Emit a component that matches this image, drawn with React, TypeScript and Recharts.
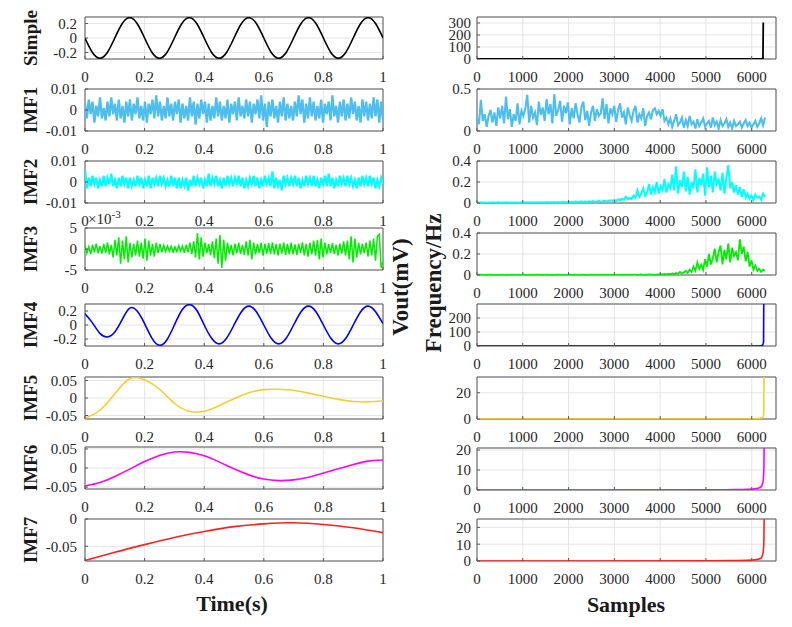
import React from "react";
import {
  LineChart,
  Line,
  XAxis,
  YAxis,
  CartesianGrid,
  ReferenceArea,
} from "recharts";

const FONT = "'Liberation Serif', 'Times New Roman', serif";

// axis ticks
const timeTicks = [0, 0.2, 0.4, 0.6, 0.8, 1];
const sampleTicks = [0, 1000, 2000, 3000, 4000, 5000, 6000];
const rowNames = ["Simple", "IMF1", "IMF2", "IMF3", "IMF4", "IMF5", "IMF6", "IMF7"];

// ---- left column: time signals (t = 0..1 s) ----
const simple = [
  0, -0.2, -0.28, -0.2, 0, 0.2, 0.28, 0.2,
  0, -0.2, -0.28, -0.2, 0, 0.2, 0.28, 0.2,
  0, -0.2, -0.28, -0.2, 0, 0.2, 0.28, 0.2,
  0, -0.2, -0.28, -0.2, 0, 0.2, 0.28, 0.2,
  0, -0.2, -0.28, -0.2, 0, 0.2, 0.28, 0.2,
  0,
];

// IMF1 / IMF2 / IMF3 in units of 1e-3
const imf1Milli = [
  3, -4, 5, -2, 4, -6, 2, -3, 6, -4,
  1, -5, 4, -3, 6, -2, 3, -5, 5, -4,
  2, -6, 4, -3, 5, -5, 3, -2, 6, -4,
  2, -5, 4, -6, 3, -2, 5, -4, 7, -3,
  4, -5, 2, -4, 6, -3, 3, -5, 4, -2,
  5, -6, 3, -4, 2, -5, 6, -3, 4, -7,
  3, -4, 5, -2, 4, -6, 3, -5, 2, -4,
  6, -3, 4, -5, 2, -4, 5, -6, 3, -2,
  4, -5, 6, -3, 2, -4, 5, -3, 4, -6,
  3, -2, 5, -4, 7, -5, 3, -8, 4, -3,
  5, -4, 2, -6, 4, -3, 6, -5, 3, -4,
  2, -5, 4, -3, 7, -2, 5, -6, 3, -4,
  6, -3, 4, -5, 2, -4, 5, -6, 3, -2,
  4, -5, 7, -3, 2, -6, 4, -3, 5, -5,
  3, -4, 6, -2, 4, -5, 2, -6, 5, -3,
  4, -5, 3, -4, 6, -3, 5, -6, 4, -5,
];

const imf2Milli = [
  6, -3, 2, -2, 3, -1, 2, -3, 1, -2,
  3, -2, 2, -1, 4, -2, 1, -3, 2, -2,
  3, -1, 2, -3, 2, -2, 1, -2, 3, -1,
  2, -3, 1, -2, 3, -3, 2, -1, 2, -2,
  3, -1, 2, -2, 1, -2, 3, -2, 2, -3,
  2, -3, 1, -2, 2, -4, 1, -2, 3, -2,
  2, -1, 2, -3, 1, -2, 4, -2, 2, -1,
  3, -2, 1, -3, 2, -2, 3, -1, 2, -2,
  2, -1, 3, -2, 2, -3, 1, -2, 2, -1,
  3, -2, 2, -3, 1, -2, 3, -1, 2, -2,
  5, -3, 2, -2, 1, -4, 3, -1, 2, -2,
  2, -1, 3, -2, 2, -3, 1, -2, 3, -1,
  2, -2, 3, -2, 1, -3, 2, -1, 3, -2,
  4, -2, 2, -3, 1, -2, 3, -1, 2, -2,
  3, -1, 2, -2, 1, -3, 2, -2, 3, -1,
  2, -2, 3, -1, 2, -3, 1, -2, 2, -1,
];

const imf3Milli = [
  1, -1, 0.5, -1.2, 1, -0.8, 1.3, -1, 0.7, -1.1,
  1.2, -0.9, 1.5, -1.3, 1, -2, 2.2, -1.5, 2.8, -3.5,
  2, -2.5, 3, -3.2, 1.5, -2, 1.2, -1.5, 2, -1.8,
  1.5, -2.3, 2.5, -2.8, 2, -1.5, 1.2, -1.8, 1.5, -1,
  1.2, -0.8, 0.9, -0.6, 0.7, -0.5, 0.6, -0.7, 0.5, -0.6,
  0.8, -0.5, 0.7, -0.9, 1, -0.8, 1.5, -1.2, 1.8, -2,
  3.8, -2.5, 2.8, -1.8, 1.5, -1, 1.2, -1.5, 1.8, -2.2,
  2.5, -3.5, 3.3, -4.5, 2.2, -2.8, 1.5, -1.2, 1, -1.5,
  1.3, -1, 1.5, -1.2, 1, -1.4, 1.8, -1.5, 2.2, -2.5,
  1.5, -1.3, 1.2, -1, 1.5, -1.6, 1.3, -1.1, 1.4, -1.2,
  1.6, -1.3, 1.2, -1.5, 1.3, -1.1, 1.5, -1.4, 1.2, -1.3,
  1.5, -1.2, 1.1, -1.4, 1.3, -1, 1.6, -1.5, 1.2, -1.8,
  1.5, -1.3, 2, -1.6, 2.2, -2.5, 2.5, -2, 1.5, -1.3,
  1.2, -1, 1.4, -1.2, 1, -1.5, 1.3, -1.1, 1.8, -1.5,
  2, -2.5, 3, -3.2, 2.5, -2, 1.5, -1.3, 1.2, -1,
  1.5, -1.8, 2, -1.5, 2.5, -2.8, 3, 3.5, -4.5, -3,
];

const imf4 = [
  0.16, 0.03, -0.12, -0.17, -0.1, 0.08, 0.24, 0.2,
  0.02, -0.19, -0.29, -0.21, 0, 0.21, 0.29, 0.21,
  0, -0.19, -0.27, -0.19, 0, 0.19, 0.27, 0.19,
  0, -0.19, -0.27, -0.19, 0, 0.19, 0.27, 0.19,
  0, -0.19, -0.27, -0.19, 0, 0.19, 0.27, 0.19,
  0.02,
];

const imf5 = [
  -0.058, -0.035, 0.012, 0.055, 0.052, 0.025, -0.015, -0.038, -0.038, -0.022,
  -0.002, 0.015, 0.024, 0.025, 0.022, 0.014, 0.005, -0.004, -0.01, -0.011,
  -0.008,
];

const imf6 = [
  -0.047, -0.038, -0.022, -0.003, 0.017, 0.033, 0.042, 0.041, 0.032, 0.016,
  -0.002, -0.018, -0.029, -0.033, -0.031, -0.024, -0.013, -0.002, 0.009, 0.018,
  0.021,
];

const imf7 = [
  -0.076, -0.061, -0.047, -0.034, -0.023, -0.014, -0.009, -0.007, -0.01, -0.016,
  -0.025,
];

// ---- right column: spectra over samples ----
const SAMPLE_END = 6290;

const r1X = [0, 6245, 6252];
const r1Y = [0, 0, 305];

const r2 = [
  0.15, 0.08, 0.37, 0.12, 0.2, 0.05, 0.18, 0.25, 0.1, 0.22,
  0.06, 0.28, 0.15, 0.3, 0.09, 0.41, 0.14, 0.26, 0.05, 0.2,
  0.12, 0.33, 0.08, 0.24, 0.18, 0.27, 0.43, 0.1, 0.3, 0.16,
  0.22, 0.07, 0.35, 0.19, 0.28, 0.12, 0.38, 0.2, 0.32, 0.09,
  0.44, 0.18, 0.25, 0.36, 0.11, 0.3, 0.21, 0.34, 0.08, 0.27,
  0.15, 0.33, 0.2, 0.1, 0.28, 0.35, 0.13, 0.24, 0.06, 0.22,
  0.3, 0.12, 0.26, 0.18, 0.21, 0.39, 0.14, 0.32, 0.09, 0.27,
  0.2, 0.3, 0.11, 0.25, 0.33, 0.16, 0.22, 0.08, 0.28, 0.19,
  0.12, 0.24, 0.3, 0.1, 0.2, 0.15, 0.27, 0.06, 0.18, 0.22,
  0.14, 0.25, 0.27, 0.2, 0.24, 0.18, 0.26, 0.12, 0.16, 0.08,
  0.15, 0.05, 0.12, 0.2, 0.07, 0.1, 0.16, 0.04, 0.13, 0.06,
  0.18, 0.08, 0.11, 0.03, 0.14, 0.06, 0.1, 0.15, 0.05, 0.09,
  0.12, 0.04, 0.16, 0.07, 0.11, 0.03, 0.13, 0.06, 0.09, 0.14,
  0.05, 0.1, 0.03, 0.12, 0.06, 0.08, 0.11, 0.04, 0.09, 0.13,
  0.06, 0.1, 0.04, 0.08, 0.12, 0.05, 0.09, 0.15, 0.07, 0.16,
];

const r3 = [
  0.005, 0.002, 0.006, 0.003, 0.004, 0.002, 0.005, 0.003, 0.006, 0.002,
  0.004, 0.006, 0.003, 0.005, 0.002, 0.006, 0.004, 0.003, 0.005, 0.002,
  0.006, 0.003, 0.005, 0.004, 0.007, 0.003, 0.006, 0.004, 0.005, 0.008,
  0.004, 0.007, 0.005, 0.008, 0.004, 0.006, 0.009, 0.005, 0.008, 0.004,
  0.009, 0.006, 0.01, 0.005, 0.008, 0.011, 0.006, 0.01, 0.007, 0.012,
  0.008, 0.013, 0.007, 0.012, 0.015, 0.009, 0.014, 0.01, 0.016, 0.011,
  0.018, 0.012, 0.015, 0.02, 0.013, 0.017, 0.022, 0.014, 0.019, 0.025,
  0.02, 0.03, 0.018, 0.035, 0.025, 0.04, 0.03, 0.06, 0.035, 0.05,
  0.04, 0.07, 0.05, 0.12, 0.06, 0.09, 0.14, 0.07, 0.1, 0.18,
  0.08, 0.15, 0.1, 0.2, 0.09, 0.16, 0.12, 0.23, 0.1, 0.18,
  0.14, 0.27, 0.12, 0.35, 0.09, 0.22, 0.15, 0.3, 0.11, 0.25,
  0.08, 0.2, 0.14, 0.32, 0.1, 0.24, 0.17, 0.28, 0.07, 0.34,
  0.15, 0.26, 0.1, 0.3, 0.18, 0.22, 0.12, 0.29, 0.09, 0.24,
  0.36, 0.14, 0.2, 0.1, 0.17, 0.08, 0.15, 0.06, 0.13, 0.05,
  0.09, 0.04, 0.07, 0.03, 0.08, 0.05, 0.06, 0.03, 0.09, 0.06,
];

const r4 = [
  0.002, 0.001, 0.003, 0.001, 0.002, 0.001, 0.002, 0.003, 0.001, 0.002,
  0.001, 0.002, 0.001, 0.003, 0.002, 0.001, 0.002, 0.001, 0.003, 0.001,
  0.002, 0.001, 0.002, 0.001, 0.003, 0.002, 0.001, 0.002, 0.001, 0.002,
  0.001, 0.003, 0.002, 0.001, 0.002, 0.001, 0.003, 0.001, 0.002, 0.001,
  0.002, 0.001, 0.003, 0.002, 0.001, 0.002, 0.001, 0.002, 0.003, 0.001,
  0.002, 0.003, 0.001, 0.002, 0.001, 0.003, 0.002, 0.001, 0.002, 0.003,
  0.001, 0.002, 0.003, 0.002, 0.001, 0.003, 0.002, 0.003, 0.001, 0.002,
  0.003, 0.002, 0.001, 0.003, 0.002, 0.004, 0.002, 0.003, 0.002, 0.004,
  0.002, 0.003, 0.004, 0.002, 0.003, 0.005, 0.002, 0.004, 0.003, 0.005,
  0.003, 0.005, 0.002, 0.006, 0.004, 0.008, 0.005, 0.01, 0.006, 0.012,
  0.008, 0.015, 0.01, 0.02, 0.012, 0.03, 0.015, 0.025, 0.04, 0.02,
  0.05, 0.03, 0.08, 0.04, 0.12, 0.06, 0.1, 0.05, 0.15, 0.08,
  0.2, 0.1, 0.16, 0.25, 0.12, 0.22, 0.28, 0.1, 0.24, 0.15,
  0.3, 0.12, 0.26, 0.18, 0.22, 0.14, 0.34, 0.2, 0.27, 0.13,
  0.22, 0.08, 0.14, 0.05, 0.09, 0.04, 0.06, 0.03, 0.05, 0.04,
];

const r5X = [0, 6100, 6200, 6240, 6258, 6264];
const r5Y = [0, 0.5, 2, 8, 30, 400];
const r6X = [0, 6000, 6150, 6220, 6250, 6263, 6270];
const r6Y = [0, 0.05, 0.3, 0.9, 2, 5, 40];
const r7X = [0, 5000, 5600, 5900, 6100, 6200, 6245, 6265, 6275];
const r7Y = [0, 0.05, 0.2, 0.35, 0.7, 1.5, 4, 10, 30];
const r8X = [0, 5000, 5600, 5900, 6100, 6200, 6245, 6265, 6275];
const r8Y = [0, 0.05, 0.25, 0.4, 0.8, 1.6, 4.5, 11, 35];

type Pt = { x: number; y: number };
const timeSeries = (vals: number[]): Pt[] =>
  vals.map((y, i) => ({ x: i / (vals.length - 1), y }));
const sampleSeries = (vals: number[]): Pt[] =>
  vals.map((y, i) => ({ x: (SAMPLE_END * i) / (vals.length - 1), y }));
const pairSeries = (xs: number[], ys: number[]): Pt[] =>
  xs.map((x, i) => ({ x, y: ys[i] }));

const milli = (v: number) => (v === 0 ? "0" : String(v / 1000));

// layout
const PH = 42;
const leftX = 85;
const leftW = 298;
const rightX = 477;
const rightW = 299;
const leftTops = [17, 89, 161, 228, 304, 377, 447, 519];
const rightTops = [17, 89, 161, 233, 304, 377, 448, 519];

type PanelProps = {
  left: number;
  top: number;
  width: number;
  data: Pt[];
  color: string;
  xDomain: [number, number];
  xTicks: number[];
  yDomain: [number, number];
  yTicks: number[];
  yFmt?: (v: number) => string;
  curve?: "linear" | "natural" | "monotone";
  sw?: number;
  yGap: number;
};

const tickStyle = { fontSize: 15, fill: "#262626", fontFamily: FONT };
const tickMark = { stroke: "#595959", strokeWidth: 1 };

const Panel = ({
  left,
  top,
  width,
  data,
  color,
  xDomain,
  xTicks,
  yDomain,
  yTicks,
  yFmt,
  curve = "linear",
  sw = 1.2,
  yGap,
}: PanelProps) => {
  const YW = 70;
  const MT = 10;
  const MR = 6;
  const XH = 26;
  return (
    <div style={{ position: "absolute", left: left - YW, top: top - MT }}>
      <LineChart
        width={YW + width + MR}
        height={MT + PH + XH}
        data={data}
        margin={{ top: MT, right: MR, bottom: 0, left: 0 }}
      >
        <CartesianGrid stroke="#dedede" strokeWidth={0.8} />
        <XAxis
          dataKey="x"
          type="number"
          domain={xDomain}
          ticks={xTicks}
          interval={0}
          allowDataOverflow
          height={XH}
          axisLine={false}
          tickLine={tickMark}
          tickSize={-3}
          tickMargin={15}
          tick={tickStyle}
        />
        <YAxis
          type="number"
          domain={yDomain}
          ticks={yTicks}
          interval={0}
          allowDataOverflow
          width={YW}
          axisLine={false}
          tickLine={tickMark}
          tickSize={-3}
          tickMargin={yGap + 3}
          tickFormatter={yFmt}
          tick={tickStyle}
        />
        <ReferenceArea
          x1={xDomain[0]}
          x2={xDomain[1]}
          y1={yDomain[0]}
          y2={yDomain[1]}
          fill="none"
          stroke="#595959"
          strokeWidth={1}
          ifOverflow="visible"
        />
        <Line
          dataKey="y"
          type={curve}
          stroke={color}
          strokeWidth={sw}
          dot={false}
          isAnimationActive={false}
        />
      </LineChart>
    </div>
  );
};

const leftPanels = [
  { data: timeSeries(simple), color: "#000000", yDomain: [-0.29, 0.29], yTicks: [-0.2, 0, 0.2], curve: "natural", sw: 1.6 },
  { data: timeSeries(imf1Milli), color: "#4DBEEE", yDomain: [-10, 10], yTicks: [-10, 0, 10], yFmt: milli, sw: 2.3 },
  { data: timeSeries(imf2Milli), color: "#00FFFF", yDomain: [-10, 10], yTicks: [-10, 0, 10], yFmt: milli, sw: 2.2 },
  { data: timeSeries(imf3Milli), color: "#00EE00", yDomain: [-5, 5], yTicks: [-5, 0, 5], sw: 1.5 },
  { data: timeSeries(imf4), color: "#0000FF", yDomain: [-0.3, 0.3], yTicks: [-0.2, 0, 0.2], curve: "natural", sw: 1.6 },
  { data: timeSeries(imf5), color: "#F5CF2A", yDomain: [-0.06, 0.06], yTicks: [-0.05, 0, 0.05], curve: "natural", sw: 1.6 },
  { data: timeSeries(imf6), color: "#FF00FF", yDomain: [-0.055, 0.055], yTicks: [-0.05, 0, 0.05], curve: "natural", sw: 1.6 },
  { data: timeSeries(imf7), color: "#FF2020", yDomain: [-0.077, 0], yTicks: [-0.05, 0], curve: "natural", sw: 1.6 },
];

const rightPanels = [
  { data: pairSeries(r1X, r1Y), color: "#000000", yDomain: [0, 350], yTicks: [0, 100, 200, 300], sw: 1.8 },
  { data: sampleSeries(r2), color: "#4DBEEE", yDomain: [0, 0.5], yTicks: [0, 0.5], sw: 2.1 },
  { data: sampleSeries(r3), color: "#00FFFF", yDomain: [0, 0.4], yTicks: [0, 0.2, 0.4], sw: 2.0 },
  { data: sampleSeries(r4), color: "#00EE00", yDomain: [0, 0.4], yTicks: [0, 0.2, 0.4], sw: 1.8 },
  { data: pairSeries(r5X, r5Y), color: "#0000FF", yDomain: [0, 300], yTicks: [0, 100, 200], curve: "monotone", sw: 1.6 },
  { data: pairSeries(r6X, r6Y), color: "#F5CF2A", yDomain: [0, 32], yTicks: [0, 20], curve: "monotone", sw: 1.6 },
  { data: pairSeries(r7X, r7Y), color: "#FF00FF", yDomain: [0, 21], yTicks: [0, 10, 20], curve: "monotone", sw: 1.6 },
  { data: pairSeries(r8X, r8Y), color: "#FF2020", yDomain: [0, 25], yTicks: [0, 10, 20], curve: "monotone", sw: 1.6 },
];

const rotated = (
  text: string,
  cx: number,
  cy: number,
  size: number
): React.ReactNode => (
  <div
    key={text}
    style={{
      position: "absolute",
      left: cx,
      top: cy,
      transform: "translate(-50%, -50%) rotate(-90deg)",
      whiteSpace: "nowrap",
      fontFamily: FONT,
      fontWeight: "bold",
      fontSize: size,
      color: "#1a1a1a",
      lineHeight: 1,
    }}
  >
    {text}
  </div>
);

export default function App() {
  return (
    <div
      style={{
        position: "absolute",
        left: 0,
        top: 0,
        width: 792,
        height: 627,
        background: "#ffffff",
        overflow: "hidden",
      }}
    >
      {leftPanels.map((p, i) => (
        <Panel
          key={"l" + i}
          left={leftX}
          top={leftTops[i]}
          width={leftW}
          data={p.data}
          color={p.color}
          xDomain={[0, 1]}
          xTicks={timeTicks}
          yDomain={p.yDomain as [number, number]}
          yTicks={p.yTicks}
          yFmt={p.yFmt}
          curve={p.curve as PanelProps["curve"]}
          sw={p.sw}
          yGap={8}
        />
      ))}
      {rightPanels.map((p, i) => (
        <Panel
          key={"r" + i}
          left={rightX}
          top={rightTops[i]}
          width={rightW}
          data={p.data}
          color={p.color}
          xDomain={[0, 6530]}
          xTicks={sampleTicks}
          yDomain={p.yDomain as [number, number]}
          yTicks={p.yTicks}
          curve={p.curve as PanelProps["curve"]}
          sw={p.sw}
          yGap={6}
        />
      ))}

      {rowNames.map((name, i) => rotated(name, 30, leftTops[i] + PH / 2, 19))}
      {rotated("Vout(mV)", 400, 287, 23)}
      {rotated("Frequency/Hz", 433, 283, 23)}

      <div
        style={{
          position: "absolute",
          left: 88,
          top: 209,
          fontFamily: FONT,
          fontSize: 15,
          color: "#262626",
          lineHeight: 1,
        }}
      >
        ×10<sup style={{ fontSize: 11 }}>-3</sup>
      </div>

      <div
        style={{
          position: "absolute",
          left: 232,
          top: 604,
          transform: "translate(-50%, -50%)",
          fontFamily: FONT,
          fontWeight: "bold",
          fontSize: 22,
          color: "#1a1a1a",
        }}
      >
        Time(s)
      </div>
      <div
        style={{
          position: "absolute",
          left: 626,
          top: 605,
          transform: "translate(-50%, -50%)",
          fontFamily: FONT,
          fontWeight: "bold",
          fontSize: 22,
          color: "#1a1a1a",
        }}
      >
        Samples
      </div>
    </div>
  );
}
